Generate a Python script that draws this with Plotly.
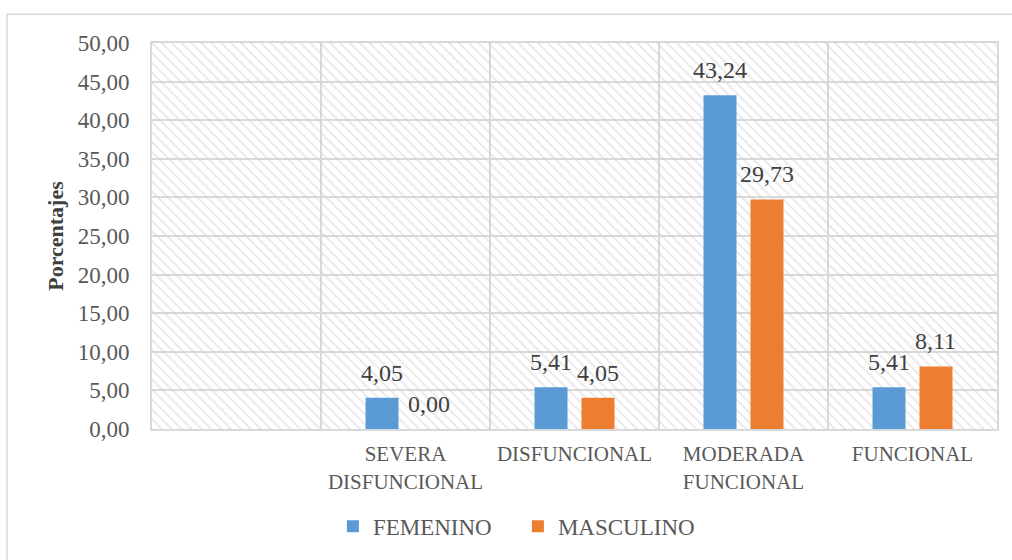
import plotly.graph_objects as go

# Chart data
categorias = [" ", "SEVERA<br>DISFUNCIONAL", "DISFUNCIONAL", "MODERADA<br>FUNCIONAL", "FUNCIONAL"]
femenino = [None, 4.05, 5.41, 43.24, 5.41]
masculino = [None, 0.00, 4.05, 29.73, 8.11]
series_nombres = ["FEMENINO", "MASCULINO"]
y_ticks = [0, 5, 10, 15, 20, 25, 30, 35, 40, 45, 50]

AZUL = "#5B9BD5"
NARANJA = "#ED7D31"
GRIS_GRID = "#d9d9d9"
TEXTO = "#595959"
TEXTO_OSCURO = "#404040"
FUENTE = "Liberation Serif, Times New Roman, serif"

BARGAP = 0.444
BARGROUPGAP = 0.298

fig = go.Figure()

# Hatched plot background on hidden base axes (drawn beneath the bars)
fig.add_trace(go.Bar(
    x=[0.5], y=[1], width=[1], xaxis="x", yaxis="y",
    marker=dict(
        color="rgba(0,0,0,0)", line_width=0,
        pattern=dict(shape="\\", fgcolor="#cfcfcf", bgcolor="rgba(0,0,0,0)",
                     size=7, solidity=0.25),
    ),
    hoverinfo="skip", showlegend=False,
))

for nombre, valores, color in [(series_nombres[0], femenino, AZUL),
                               (series_nombres[1], masculino, NARANJA)]:
    fig.add_trace(go.Bar(
        name=nombre, x=categorias, y=valores, xaxis="x2", yaxis="y2",
        marker=dict(color=color, line_width=0),
    ))

# Value labels above each bar, placed at the bar's own position within the group
desplazamiento = (1 - BARGAP) / 4
anotaciones = []
for signo, valores in [(-1, femenino), (1, masculino)]:
    for i, v in enumerate(valores):
        if v is None:
            continue
        anotaciones.append(dict(
            x=i + signo * desplazamiento, y=v, xref="x2", yref="y2",
            text=f"{v:.2f}".replace(".", ","), showarrow=False,
            yanchor="bottom", yshift=10,
            font=dict(family=FUENTE, size=24, color=TEXTO_OSCURO),
        ))

fig.update_layout(
    width=1012, height=560,
    margin=dict(l=152, r=15, t=43, b=128),
    paper_bgcolor="white", plot_bgcolor="white",
    barmode="group", bargap=BARGAP, bargroupgap=BARGROUPGAP,
    separators=",.",
    hovermode=False,
    font=dict(family=FUENTE, color=TEXTO),
    xaxis=dict(range=[0, 1], visible=False, fixedrange=True),
    yaxis=dict(range=[0, 1], visible=False, fixedrange=True),
    xaxis2=dict(
        overlaying="x", anchor="y2", type="category",
        categoryorder="array", categoryarray=categorias,
        range=[-0.5, len(categorias) - 0.5],
        tickson="boundaries", ticks="", ticklabelstandoff=5,
        showgrid=True, gridcolor=GRIS_GRID, gridwidth=2,
        showline=True, mirror=True, linecolor=GRIS_GRID, linewidth=2,
        zeroline=False,
        tickfont=dict(family=FUENTE, size=21, color=TEXTO),
    ),
    yaxis2=dict(
        overlaying="y", anchor="x2", side="left",
        range=[0, 50], tickvals=y_ticks, tickformat=".2f",
        showgrid=True, gridcolor=GRIS_GRID, gridwidth=2,
        showline=True, mirror=True, linecolor=GRIS_GRID, linewidth=2,
        zeroline=False, ticks="", ticklabelstandoff=16,
        tickfont=dict(family=FUENTE, size=23, color=TEXTO),
        title=dict(text="<b>Porcentajes</b>", standoff=8,
                   font=dict(family=FUENTE, size=22, color=TEXTO_OSCURO)),
    ),
    legend=dict(
        orientation="h", x=0.433, xanchor="center", y=-0.252, yanchor="middle",
        font=dict(family=FUENTE, size=23, color=TEXTO),
        traceorder="normal", itemwidth=30, entrywidth=140,
    ),
    annotations=anotaciones,
    shapes=[dict(
        type="rect", xref="paper", yref="paper",
        x0=(7 - 152) / 845, x1=1.05, y0=-0.45, y1=(432 - 14) / 389,
        line=dict(color=GRIS_GRID, width=1.5), fillcolor="rgba(0,0,0,0)",
        layer="below",
    )],
)

fig.write_html("out.html")
